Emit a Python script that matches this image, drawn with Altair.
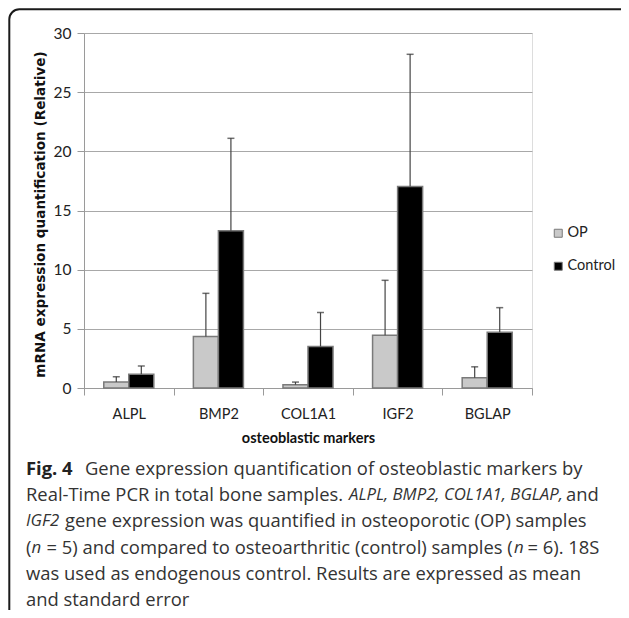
import altair as alt
import pandas as pd

# ---- data ----
categories = ["ALPL", "BMP2", "COL1A1", "IGF2", "BGLAP"]
groups = ["OP", "Control"]
op_mean = [0.50, 4.35, 0.28, 4.45, 0.87]
op_sem = [0.45, 3.65, 0.22, 4.65, 0.92]
control_mean = [1.17, 13.28, 3.50, 17.03, 4.72]
control_sem = [0.69, 7.82, 2.88, 11.17, 2.07]

y_ticks = [0, 5, 10, 15, 20, 25, 30]

caption_lines = [
    [("Fig. 4", "bold"), ("Gene expression quantification of osteoblastic markers by", "normal")],
    [("Real-Time PCR in total bone samples.", "normal"), ("ALPL, BMP2, COL1A1, BGLAP,", "italic"), ("and", "normal")],
    [("IGF2", "italic"), ("gene expression was quantified in osteoporotic (OP) samples", "normal")],
    [("(", "normal"), ("n", "italic"), ("= 5) and compared to osteoarthritic (control) samples (", "normal"),
     ("n", "italic"), ("= 6). 18S", "normal")],
    [("was used as endogenous control. Results are expressed as mean", "normal")],
    [("and standard error", "normal")],
]

rows = []
for i, c in enumerate(categories):
    rows.append({"marker": c, "group": "OP", "mean": op_mean[i], "top": op_mean[i] + op_sem[i]})
    rows.append({"marker": c, "group": "Control", "mean": control_mean[i],
                 "top": control_mean[i] + control_sem[i]})
df = pd.DataFrame(rows)

# ---- layout (pixels) ----
W, H = 448, 355
PAD_L, PAD_T = 76, 25
TOTAL_W, TOTAL_H = 613, 602
LBL = "Lato"
CAPTION_FONT = "'Open Sans', 'Noto Sans', sans-serif"
ORIGIN_X, ORIGIN_Y = 8 + PAD_L, 8 + PAD_T

# page positions of caption segments: (x, align)
caption_pos = [
    [(26, "left"), (85, "left")],
    [(26, "left"), (349, "left"), (566, "left")],
    [(26, "left"), (65, "left")],
    [(26, "left"), (31.5, "left"), (46.5, "left"), (514, "left"), (527.5, "left")],
    [(26, "left")],
    [(26, "left")],
]
caption_y0, caption_dy = 469, 26.2

ytitle = "mRNA expression quantification (Relative)"

x_enc = alt.X(
    "marker:N",
    sort=categories,
    scale=alt.Scale(paddingInner=0, paddingOuter=0),
    axis=alt.Axis(
        title="osteoblastic markers",
        labelAngle=0,
        tickBand="extent",
        grid=False,
        domainColor="#9a9a9a",
        tickColor="#9a9a9a",
        tickSize=7,
        labelFont=LBL,
        labelFontSize=14.5,
        labelColor="#222222",
        labelPadding=12,
        titleFont=LBL,
        titleFontSize=14.5,
        titleFontWeight="bold",
        titleColor="#111111",
        titleBaseline="middle",
        titleY=50,
    ),
)
xo_enc = alt.XOffset("group:N", sort=groups, scale=alt.Scale(paddingInner=0, paddingOuter=0.79))
y_axis = alt.Axis(
    values=y_ticks,
    title=ytitle,
    grid=True,
    gridColor="#a8a8a8",
    gridWidth=1,
    domainColor="#9a9a9a",
    tickColor="#9a9a9a",
    tickSize=7,
    labelFont=LBL,
    labelFontSize=15.5,
    labelColor="#222222",
    labelPadding=6,
    titleFont="DejaVu Sans",
    titleFontSize=13.6,
    titleFontWeight="bold",
    titleColor="#111111",
    titleAngle=270,
    titleAlign="center",
    titleBaseline="middle",
    titleX=-44,
    titleY=181,
)
y_scale = alt.Scale(domain=[0, 30], nice=False)

color_enc = alt.Color(
    "group:N",
    sort=groups,
    scale=alt.Scale(domain=groups, range=["#c9c9c9", "#000000"]),
    legend=alt.Legend(
        title=None,
        orient="none",
        legendX=467,
        legendY=193,
        padding=0,
        symbolType="square",
        symbolSize=64,
        symbolStrokeWidth=1,
        labelFont=LBL,
        labelFontSize=14.5,
        labelColor="#222222",
        labelOffset=2,
        rowPadding=18,
    ),
)

bars = alt.Chart(df).mark_bar(stroke="#7a7a7a", strokeWidth=1.5).encode(
    x=x_enc, xOffset=xo_enc,
    y=alt.Y("mean:Q", scale=y_scale, axis=y_axis, title=ytitle),
    color=color_enc,
)
errs = alt.Chart(df).mark_rule(color="#444444", strokeWidth=1.2).encode(
    x=x_enc, xOffset=xo_enc,
    y=alt.Y("mean:Q", scale=y_scale, title=ytitle),
    y2="top:Q",
)
caps = alt.Chart(df).mark_tick(color="#333333", thickness=1.5, size=7, orient="horizontal").encode(
    x=x_enc, xOffset=xo_enc,
    y=alt.Y("top:Q", scale=y_scale, title=ytitle),
)

one = pd.DataFrame({"k": [0]})
border = alt.Chart(one).mark_rect(filled=False, stroke="#1a1a1a", strokeWidth=2, cornerRadius=10).encode(
    x=alt.value(9.3 - ORIGIN_X), x2=alt.value(660 - ORIGIN_X),
    y=alt.value(9.3 - ORIGIN_Y), y2=alt.value(660 - ORIGIN_Y),
)

text_layers = []
for li, segs in enumerate(caption_lines):
    for si, (txt, style) in enumerate(segs):
        px, al = caption_pos[li][si]
        kw = dict(align=al, baseline="middle", font=CAPTION_FONT, fontSize=18.4, color="#333333")
        if style == "bold":
            kw.update(fontWeight="bold", color="#222222")
        elif style == "italic":
            kw.update(fontStyle="italic", fontSize=16.8)
        t = alt.Chart(one).mark_text(**kw).encode(
            x=alt.value(px - ORIGIN_X),
            y=alt.value(caption_y0 + li * caption_dy - ORIGIN_Y),
            text=alt.value(txt),
        )
        text_layers.append(t)

chart = alt.layer(border, bars, errs, caps, *text_layers).properties(
    width=W,
    height=H,
    autosize=alt.AutoSizeParams(type="none"),
    padding={"left": PAD_L, "top": PAD_T, "right": TOTAL_W - PAD_L - W, "bottom": TOTAL_H - PAD_T - H},
).configure_view(stroke=None).configure(background="white")

chart.save("out.html", embed_options={"renderer": "svg", "actions": False})
